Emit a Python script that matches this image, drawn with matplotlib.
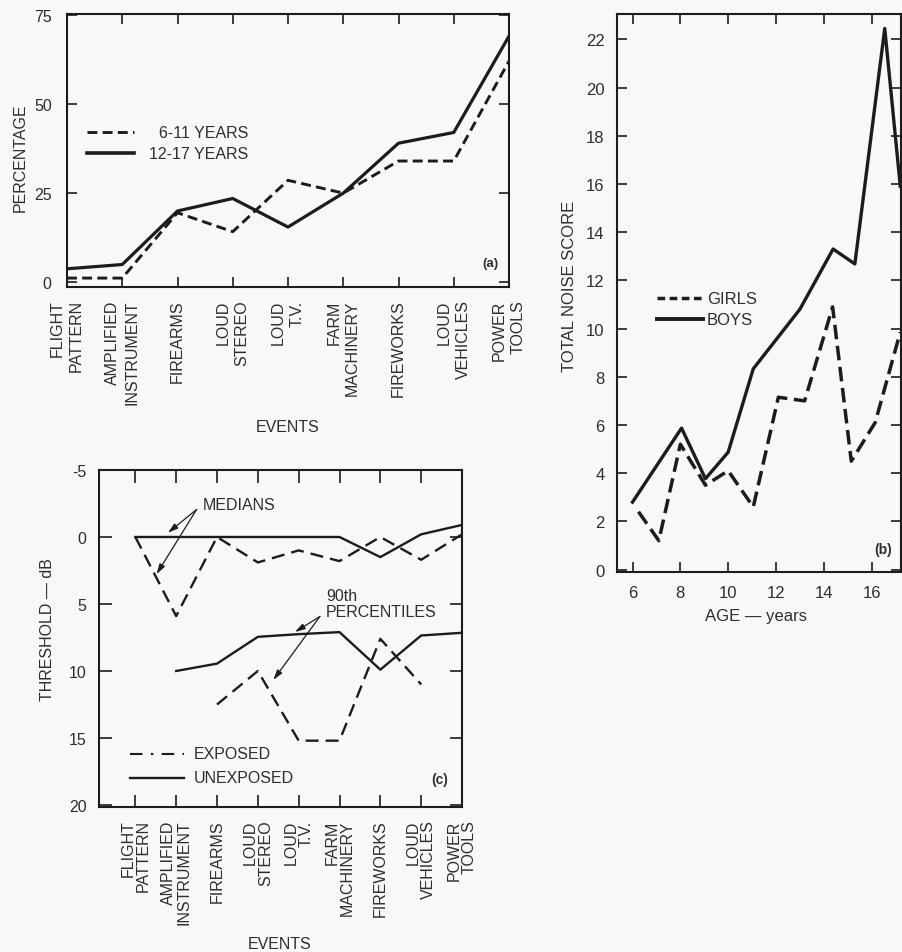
import numpy as np
import matplotlib.pyplot as plt
from matplotlib.lines import Line2D

plt.rcParams["font.family"] = ["Liberation Sans", "DejaVu Sans"]

W, H = 902, 953
BG = "#f8f8f6"
INK = "#1c1c1c"
TXT = "#2e2e2e"
FS = 11.5

# panel (a): noise events by age group
events = ["FLIGHT\nPATTERN", "AMPLIFIED\nINSTRUMENT", "FIREARMS", "LOUD\nSTEREO",
          "LOUD\nT.V.", "FARM\nMACHINERY", "FIREWORKS", "LOUD\nVEHICLES", "POWER\nTOOLS"]
pct_6_11 = [1.2, 1.2, 19.5, 14.2, 28.6, 25.0, 34.0, 34.0, 62.0]
pct_12_17 = [3.8, 5.0, 20.0, 23.5, 15.5, 25.0, 39.0, 42.0, 69.0]

# panel (b): total noise score by age
girls_age = [6.25, 7.1, 8.0, 9.05, 10.0, 11.05, 12.1, 13.2, 14.37, 15.15, 16.15, 17.2]
girls_score = [2.4, 1.2, 5.2, 3.5, 4.1, 2.6, 7.15, 7.0, 10.9, 4.5, 6.1, 9.85]
boys_age = [6.0, 8.05, 9.05, 10.0, 11.05, 13.0, 14.39, 15.3, 16.55, 17.2]
boys_score = [2.8, 5.87, 3.77, 4.87, 8.33, 10.8, 13.3, 12.68, 22.45, 15.9]

# panel (c): thresholds (dB), medians and 90th percentiles
med_exposed = [0, 5.9, 0, 1.9, 1.0, 1.8, 0, 1.7, -0.2]
med_unexposed = [0, 0, 0, 0, 0, 0, 1.5, -0.2, -0.9]
p90_exposed = [np.nan, np.nan, 12.5, 10.0, 15.2, 15.2, 7.6, 11.0, np.nan]
p90_unexposed = [np.nan, 10.0, 9.45, 7.45, 7.25, 7.1, 9.9, 7.35, 7.15]


def fig_axes(fig, left, top, right, bottom):
	# pixel box -> figure fraction
	return fig.add_axes([left / W, 1 - bottom / H, (right - left) / W, (bottom - top) / H])


def style(ax, length=7, pad=8):
	ax.set_facecolor(BG)
	for s in ax.spines.values():
		s.set_linewidth(1.5)
		s.set_color(INK)
	ax.tick_params(direction="in", top=True, right=True, length=length, width=1.2,
				   colors=INK, labelcolor=TXT, labelsize=FS, pad=pad)


def event_labels(ax, linespacing):
	ax.set_xticks(range(len(events)))
	ax.set_xticklabels(events, rotation=90, ha="center", va="top", fontsize=FS,
					   linespacing=linespacing)
	for lbl in ax.get_xticklabels():
		lbl.set_multialignment("right")


def make_figure():
	fig = plt.figure(figsize=(W / 100, H / 100), dpi=100, facecolor=BG)

	# ---- (a)
	ax = fig_axes(fig, 67, 15, 509, 288)
	style(ax, pad=9)
	x = np.arange(len(events))
	ax.plot(x, pct_6_11, color=INK, lw=2.1, ls=(0, (3.4, 1.8)))
	ax.plot(x, pct_12_17, color=INK, lw=2.3)
	ax.set_xlim(0, 8)
	ax.set_ylim(-1.3, 75.2)
	ax.set_yticks([0, 25, 50, 75])
	ax.tick_params(axis="y", pad=11)
	event_labels(ax, 1.3)
	ax.plot([0.046, 0.151], [0.567, 0.567], transform=ax.transAxes, color=INK, lw=2.1,
			ls=(0, (3.4, 1.8)))
	ax.plot([0.046, 0.151], [0.49, 0.49], transform=ax.transAxes, color=INK, lw=2.6)
	ax.text(0.41, 0.567, "6-11 YEARS", transform=ax.transAxes, ha="right", va="center",
			fontsize=FS, color=TXT)
	ax.text(0.41, 0.49, "12-17 YEARS", transform=ax.transAxes, ha="right", va="center",
			fontsize=FS, color=TXT)
	ax.text(0.958, 0.089, "(a)", transform=ax.transAxes, ha="center", va="center",
			fontsize=9.5, fontweight="bold", color=TXT)
	fig.text(20 / W, 1 - 158 / H, "PERCENTAGE", rotation=90, ha="center", va="center",
			 fontsize=FS, color=TXT)
	fig.text(288 / W, 1 - 428 / H, "EVENTS", ha="center", va="center", fontsize=FS, color=TXT)

	# ---- (b)
	ax = fig_axes(fig, 617, 15, 901, 573)
	style(ax, pad=9)
	ax.plot(girls_age, girls_score, color=INK, lw=2.5, ls=(0, (4.2, 1.9)))
	ax.plot(boys_age, boys_score, color=INK, lw=2.4)
	ax.set_xlim(5.35, 17.23)
	ax.set_ylim(-0.1, 23.05)
	ax.set_xticks(range(6, 17, 2))
	ax.set_yticks(range(0, 23, 2))
	ax.tick_params(axis="both", labelsize=12)
	ax.plot([0.14, 0.303], [0.491, 0.491], transform=ax.transAxes, color=INK, lw=2.5,
			ls=(0, (2.2, 1.3)))
	ax.plot([0.14, 0.303], [0.453, 0.453], transform=ax.transAxes, color=INK, lw=2.8)
	ax.text(0.316, 0.491, "GIRLS", transform=ax.transAxes, va="center", fontsize=12, color=TXT)
	ax.text(0.316, 0.453, "BOYS", transform=ax.transAxes, va="center", fontsize=12, color=TXT)
	ax.text(0.936, 0.042, "(b)", transform=ax.transAxes, ha="center", va="center",
			fontsize=10, fontweight="bold", color=TXT)
	fig.text(569 / W, 1 - 286 / H, "TOTAL NOISE SCORE", rotation=90, ha="center",
			 va="center", fontsize=12, color=TXT)
	fig.text(756 / W, 1 - 616 / H, "AGE \u2014 years", ha="center", va="center",
			 fontsize=12, color=TXT)

	# ---- (c)
	ax = fig_axes(fig, 99, 471, 462, 808)
	style(ax, length=9, pad=9)
	ax.plot(x, med_exposed, color=INK, lw=1.7, ls=(0, (5.5, 3)))
	ax.plot(x, med_unexposed, color=INK, lw=1.7)
	ax.plot(x, p90_exposed, color=INK, lw=1.7, ls=(0, (5.5, 3)))
	ax.plot(x, p90_unexposed, color=INK, lw=1.7)
	ax.set_xlim(-0.89, 8)
	ax.set_ylim(20.15, -4.85)
	ax.set_yticks([-5, 0, 5, 10, 15, 20])
	ax.set_yticklabels(["-5", "0", "5", "10", "15", "20"])
	event_labels(ax, 1.0)

	arrow = dict(arrowstyle="-|>,head_length=0.6,head_width=0.18", color=INK, lw=0.9,
				 shrinkA=0, shrinkB=0)
	ax.annotate("", xy=(0.80, -0.32), xytext=(1.50, -2.05), arrowprops=arrow)
	ax.annotate("", xy=(0.52, 2.77), xytext=(1.50, -2.05), arrowprops=arrow)
	ax.text(1.66, -2.42, "MEDIANS", ha="left", va="center", fontsize=FS, color=TXT)
	ax.annotate("", xy=(3.91, 7.09), xytext=(4.52, 5.93), arrowprops=arrow)
	ax.annotate("", xy=(3.38, 10.67), xytext=(4.52, 5.93), arrowprops=arrow)
	ax.text(4.67, 4.97, "90th\nPERCENTILES", ha="left", va="center", fontsize=FS,
			color=TXT, linespacing=1.05)

	ax.add_line(Line2D([0.086, 0.234], [0.158, 0.158], transform=ax.transAxes, color=INK,
					   lw=1.5, ls=(0, (6, 4, 1.2, 4))))
	ax.add_line(Line2D([0.086, 0.234], [0.087, 0.087], transform=ax.transAxes, color=INK,
					   lw=1.7))
	ax.text(0.261, 0.158, "EXPOSED", transform=ax.transAxes, va="center", fontsize=FS,
			color=TXT)
	ax.text(0.261, 0.087, "UNEXPOSED", transform=ax.transAxes, va="center", fontsize=FS,
			color=TXT)
	ax.text(0.938, 0.082, "(c)", transform=ax.transAxes, ha="center", va="center",
			fontsize=10, fontweight="bold", color=TXT)
	fig.text(48 / W, 1 - 630 / H, "THRESHOLD \u2014 dB", rotation=90, ha="center",
			 va="center", fontsize=FS, color=TXT)
	fig.text(280 / W, 1 - 945 / H, "EVENTS", ha="center", va="center", fontsize=FS, color=TXT)

	fig.savefig("out.png", dpi=100, facecolor=BG)


if __name__ == "__main__":
	make_figure()
